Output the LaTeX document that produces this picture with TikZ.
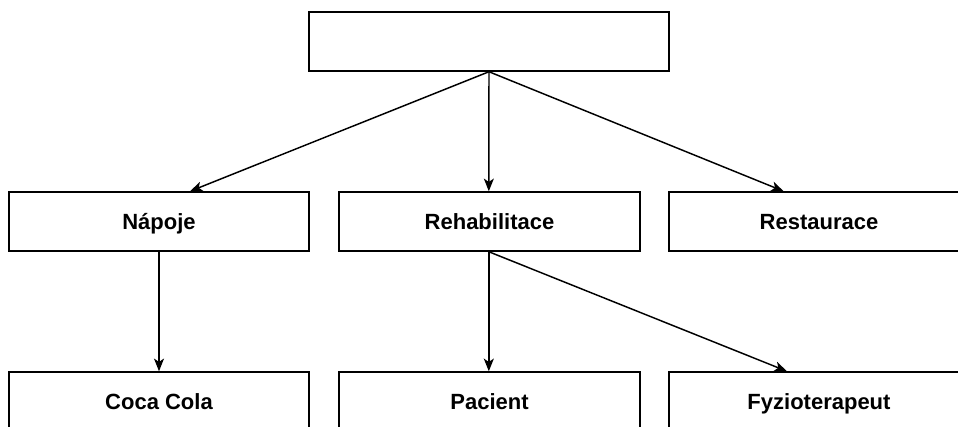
\documentclass[tikz,border=0pt]{standalone}
\usepackage{fontspec}
\setmainfont{Liberation Sans}
\usetikzlibrary{arrows.meta}
\tikzset{>={Stealth[length=9.5pt,width=7.5pt,inset=2.5pt]}}

\begin{document}
\begin{tikzpicture}[x=0.75pt,y=-0.75pt]
            \tikzset{box/.style = {draw, line width=1.1pt, minimum width=225pt, minimum height=44.25pt,
                                   inner sep=0pt, text height=14pt, text depth=2.2pt,
                                   font=\fontsize{16.5}{20}\selectfont\bfseries}}
            \tikzset{link/.style = {->, line width=1.1pt}}
            \useasboundingbox (0, 0) rectangle (958, 426);
            \clip (0, 0) rectangle (958, 426);
            \node[box, minimum width=270pt] (root) at (489, 41.5) {};
            \node[box] (napoje) at (159, 221.5) {Nápoje};
            \node[box, minimum width=225.75pt] (rehab) at (489.5, 221.5) {Rehabilitace};
            \node[box] (restaurace) at (819, 221.5) {Restaurace};
            \node[box] (cocacola) at (159, 401.5) {Coca Cola};
            \node[box, minimum width=225.75pt] (pacient) at (489.5, 401.5) {Pacient};
            \node[box] (fyzio) at (819, 401.5) {Fyzioterapeut};
            \draw[link] (root.south) -- ([xshift=23.25pt]napoje.north);
            \draw[link] (root.south) -- ([xshift=-0.5pt]rehab.north);
            \draw[link] (root.south) -- ([xshift=-26.5pt]restaurace.north);
            \draw[link] (napoje.south) -- (cocacola.north);
            \draw[link] ([xshift=-0.5pt]rehab.south) -- ([xshift=-0.5pt]pacient.north);
            \draw[link] ([xshift=-0.5pt]rehab.south) -- ([xshift=-24pt]fyzio.north);
        \end{tikzpicture}
\end{document}
